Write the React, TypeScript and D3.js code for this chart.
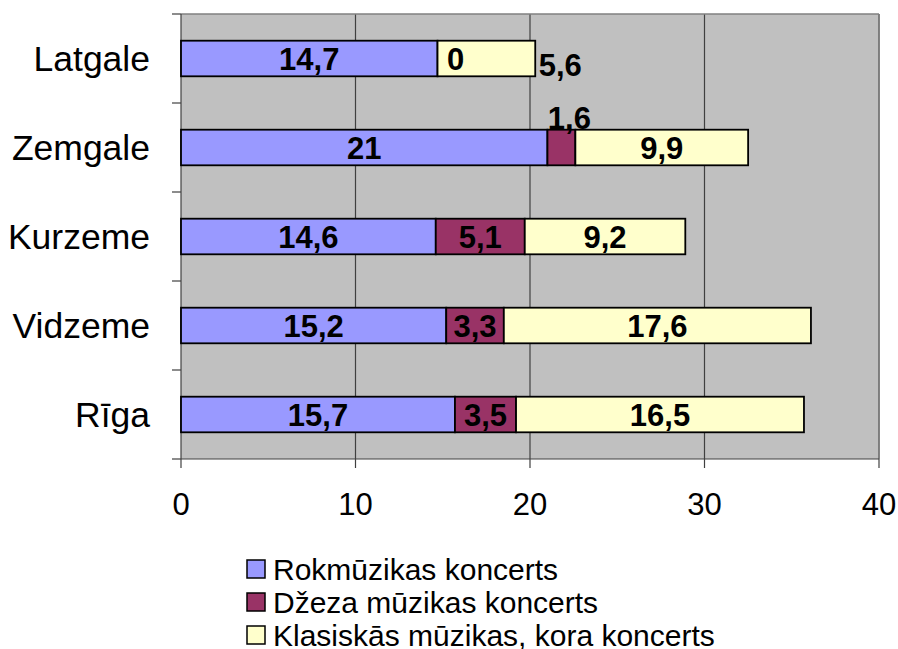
import React from "react";
import * as d3 from "d3";

const categories = ["Latgale", "Zemgale", "Kurzeme", "Vidzeme", "Rīga"];
const rockValues = [14.7, 21, 14.6, 15.2, 15.7];
const jazzValues = [0, 1.6, 5.1, 3.3, 3.5];
const classicalValues = [5.6, 9.9, 9.2, 17.6, 16.5];
const seriesNames = [
  "Rokmūzikas koncerts",
  "Džeza mūzikas koncerts",
  "Klasiskās mūzikas, kora koncerts",
];
const seriesColors = ["#9999FF", "#993366", "#FFFFCC"];
const xTicks = [0, 10, 20, 30, 40];

const W = 898;
const H = 649;
const left = 181;
const right = 879;
const top = 14;
const bottom = 459;

const fmt = (v: number) => String(v).replace(".", ",");

export default function App() {
  const x = d3.scaleLinear().domain([0, 40]).range([left, right]);
  const y = d3
    .scaleBand<string>()
    .domain(categories)
    .range([top, bottom])
    .paddingInner(0.6)
    .paddingOuter(0.3);
  const band = d3.scaleBand<string>().domain(categories).range([top, bottom]);

  const rows = categories.map((c, i) => ({
    cat: c,
    vals: [rockValues[i], jazzValues[i], classicalValues[i]],
  }));
  const stack = d3.stack<any>().keys(["0", "1", "2"]).value((d: any, k) => d.vals[+k]);
  const stacked = stack(rows as any);

  const labelFont = 31;
  const charW = (s: string) =>
    s.split("").reduce((a, ch) => a + (ch === "," ? 0.278 : 0.556), 0) * labelFont;

  const labels: any[] = [];
  stacked.forEach((layer, si) => {
    layer.forEach((seg: any, ci) => {
      const cat = categories[ci];
      const v = rows[ci].vals[si];
      const x0 = x(seg[0]);
      const x1 = x(seg[1]);
      const yc = (y(cat) as number) + y.bandwidth() / 2;
      const text = fmt(v);
      let lx = (x0 + x1) / 2;
      let ly = yc;
      const hasZeroJazz = rows[ci].vals[1] === 0;
      if (v === 0) {
        lx = x0 + 18;
      } else if (si === 2 && hasZeroJazz) {
        lx = x1 + 25;
        ly = yc + 6;
      } else if (x1 - x0 < charW(text)) {
        lx = (x0 + x1) / 2 + 8;
        ly = (y(cat) as number) - 12;
      }
      labels.push({ key: `${si}-${ci}`, lx, ly, text });
    });
  });

  return (
    <svg width={W} height={H} style={{ position: "absolute", left: 0, top: 0 }}>
      <rect x={0} y={0} width={W} height={H} fill="#ffffff" />
      <rect x={left} y={top} width={right - left} height={bottom - top} fill="#C0C0C0" />
      {xTicks.slice(1).map((t) => (
        <line key={t} x1={x(t)} x2={x(t)} y1={top} y2={bottom} stroke="#404040" strokeWidth={1.2} />
      ))}
      <line x1={left} x2={right} y1={top} y2={top} stroke="#808080" strokeWidth={1.5} />
      <line x1={right} x2={right} y1={top} y2={bottom} stroke="#808080" strokeWidth={1.5} />
      <line x1={left} x2={left} y1={top} y2={bottom} stroke="#404040" strokeWidth={1.2} />
      <line x1={left} x2={right} y1={bottom} y2={bottom} stroke="#404040" strokeWidth={1.2} />
      {categories.map((c) => (
        <line key={c} x1={left - 9} x2={left} y1={band(c)} y2={band(c)} stroke="#404040" strokeWidth={1.2} />
      ))}
      <line x1={left - 9} x2={left} y1={bottom} y2={bottom} stroke="#404040" strokeWidth={1.2} />
      {xTicks.map((t) => (
        <line key={t} x1={x(t)} x2={x(t)} y1={bottom} y2={bottom + 9} stroke="#404040" strokeWidth={1.2} />
      ))}
      {stacked.map((layer, si) =>
        layer.map((seg: any, ci) => {
          const w = x(seg[1]) - x(seg[0]);
          if (w <= 0) return null;
          return (
            <rect
              key={`${si}-${ci}`}
              x={x(seg[0])}
              y={y(categories[ci])}
              width={w}
              height={y.bandwidth()}
              fill={seriesColors[si]}
              stroke="#000"
              strokeWidth={1.8}
            />
          );
        })
      )}
      {labels.map((l) => (
        <text
          key={l.key}
          x={l.lx}
          y={l.ly}
          dy="0.36em"
          textAnchor="middle"
          fontFamily="Liberation Sans, Arial, sans-serif"
          fontWeight="bold"
          fontSize={labelFont}
          fill="#000"
        >
          {l.text}
        </text>
      ))}
      {categories.map((c) => (
        <text
          key={c}
          x={150}
          y={(band(c) as number) + band.bandwidth() / 2}
          dy="0.36em"
          textAnchor="end"
          fontFamily="Liberation Sans, Arial, sans-serif"
          fontSize={35.5}
          fill="#000"
        >
          {c}
        </text>
      ))}
      {xTicks.map((t) => (
        <text
          key={t}
          x={x(t)}
          y={504}
          dy="0.36em"
          textAnchor="middle"
          fontFamily="Liberation Sans, Arial, sans-serif"
          fontSize={31}
          fill="#000"
        >
          {t}
        </text>
      ))}
      {seriesNames.map((n, i) => (
        <g key={n} transform={`translate(247, ${569 + i * 33})`}>
          <rect x={0} y={-9} width={18} height={18} fill={seriesColors[i]} stroke="#000" strokeWidth={1.5} />
          <text
            x={26}
            y={0}
            dy="0.36em"
            fontFamily="Liberation Sans, Arial, sans-serif"
            fontSize={30}
            fill="#000"
          >
            {n}
          </text>
        </g>
      ))}
    </svg>
  );
}
